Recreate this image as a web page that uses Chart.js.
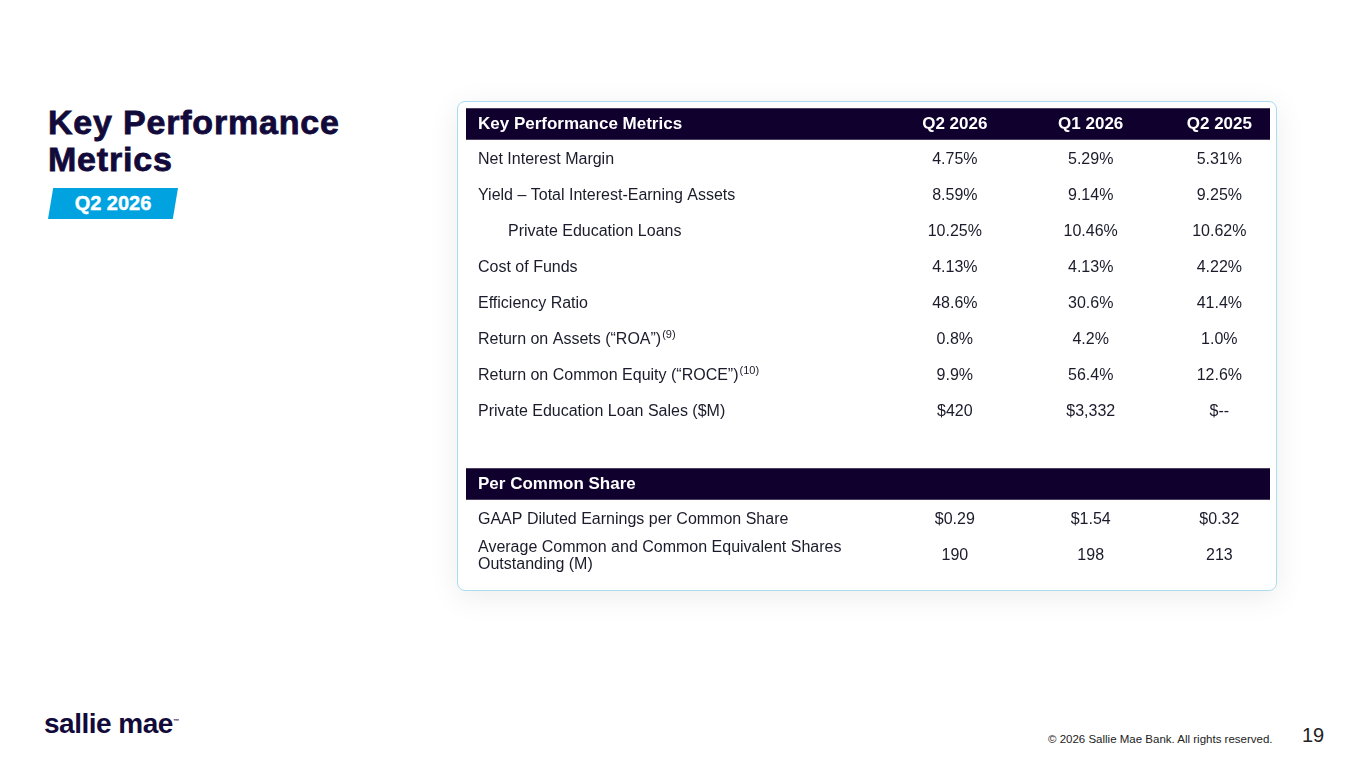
<!DOCTYPE html>
<html><head><meta charset="utf-8">
<script src="https://cdn.jsdelivr.net/npm/chart.js@4/dist/chart.umd.min.js"></script>
<style>
body{margin:0;width:1365px;height:768px;background:#fff;font-family:"Liberation Sans",Arial,sans-serif;position:relative;overflow:hidden}
.title{position:absolute;left:48px;top:104px;font-size:34px;font-weight:900;color:#120a3a;line-height:37px;letter-spacing:0.8px;-webkit-text-stroke:0.8px #120a3a}
.badge{position:absolute;left:48px;top:188px;width:130px;height:31px;background:#00a3e0;clip-path:polygon(4% 0,100% 0,96% 100%,0 100%);color:#fff;font-weight:bold;font-size:20px;text-align:center;line-height:31px;-webkit-text-stroke:0.4px #fff}
.card{position:absolute;left:457px;top:101px;width:818px;height:488px;border:1px solid #a9dcef;border-radius:8px;box-shadow:0 6px 30px rgba(0,0,0,0.08)}
#wrap{position:absolute;left:466px;top:106px;width:804px;height:468px}
.logo{position:absolute;left:44px;top:708px;font-size:28px;font-weight:bold;color:#120a3a;letter-spacing:-0.5px}
.copy{position:absolute;left:1048px;top:733px;font-size:11.5px;color:#222}
.pg{position:absolute;left:1302px;top:724px;font-size:20px;color:#222}
</style></head><body>
<div class="title">Key Performance<br>Metrics</div>
<div class="badge">Q2 2026</div>
<div class="card"></div>
<div id="wrap"><canvas id="c"></canvas></div>
<div class="logo">sallie mae<sup style="font-size:6px">™</sup></div>
<div class="copy">© 2026 Sallie Mae Bank. All rights reserved.</div>
<div class="pg">19</div>
<script>
const rowLabels = ["Key Performance Metrics","Net Interest Margin","Yield – Total Interest-Earning Assets","Private Education Loans","Cost of Funds","Efficiency Ratio","Return on Assets (“ROA”)","Return on Common Equity (“ROCE”)","Private Education Loan Sales ($M)","","Per Common Share","GAAP Diluted Earnings per Common Share","Average Common and Common Equivalent Shares|Outstanding (M)"];
const rowSup = ["","","","","","","(9)","(10)","","","","",""];
const rowIndent = [0,0,0,1,0,0,0,0,0,0,0,0,0];
const headerRows = [0,10];
const colLabels = ["Q2 2026","Q1 2026","Q2 2025"];
const q2_2026 = ["4.75%","8.59%","10.25%","4.13%","48.6%","0.8%","9.9%","$420","$0.29","190"];
const q1_2026 = ["5.29%","9.14%","10.46%","4.13%","30.6%","4.2%","56.4%","$3,332","$1.54","198"];
const q2_2025 = ["5.31%","9.25%","10.62%","4.22%","41.4%","1.0%","12.6%","$--","$0.32","213"];
const dataRows = [1,2,3,4,5,6,7,8,11,12];

const colX = [0.608,0.777,0.937];
const textPlugin = {
  id:"tableText",
  afterDatasetsDraw(chart){
    const ctx=chart.ctx, y=chart.scales.y, x=chart.scales.x;
    ctx.save(); ctx.textBaseline="middle";
    rowLabels.forEach((lab,i)=>{
      const py=y.getPixelForValue(i);
      const hdr=headerRows.includes(i);
      ctx.fillStyle=hdr?"#fff":"#1b1b2b";
      ctx.font=(hdr?"bold 17px":"16px")+' "Liberation Sans",Arial';
      ctx.textAlign="left";
      const lx=x.left+12+rowIndent[i]*30;
      const lines=lab.split("|");
      lines.forEach((ln,k)=>{
        const ly=py+(k-(lines.length-1)/2)*17;
        ctx.fillText(ln,lx,ly);
        if(rowSup[i]){const w=ctx.measureText(ln).width;ctx.font='11px "Liberation Sans",Arial';ctx.fillText(rowSup[i],lx+w+1,ly-5);}
      });
      if(i===0){
        ctx.font='bold 17px "Liberation Sans",Arial';ctx.textAlign="center";
        colLabels.forEach((c,j)=>ctx.fillText(c,x.getPixelForValue(colX[j]),py));
      }
    });
    ctx.font='16px "Liberation Sans",Arial';ctx.textAlign="center";ctx.fillStyle="#1b1b2b";
    dataRows.forEach((r,k)=>{
      const py=y.getPixelForValue(r);
      [q2_2026,q1_2026,q2_2025].forEach((s,j)=>ctx.fillText(s[k],x.getPixelForValue(colX[j]),py));
    });
    ctx.restore();
  }
};
new Chart(document.getElementById("c"),{
  type:"bar",
  data:{labels:rowLabels.map((l,i)=>i),datasets:[{data:rowLabels.map((l,i)=>headerRows.includes(i)?[0,1]:null),backgroundColor:"#10002e",barPercentage:0.88,categoryPercentage:1}]},
  options:{indexAxis:"y",responsive:true,maintainAspectRatio:false,animation:false,
    layout:{padding:0},
    plugins:{legend:{display:false},tooltip:{enabled:false}},
    scales:{x:{type:"linear",min:0,max:1,display:false},y:{display:false,offset:true}}},
  plugins:[textPlugin]
});
</script>
</body></html>
